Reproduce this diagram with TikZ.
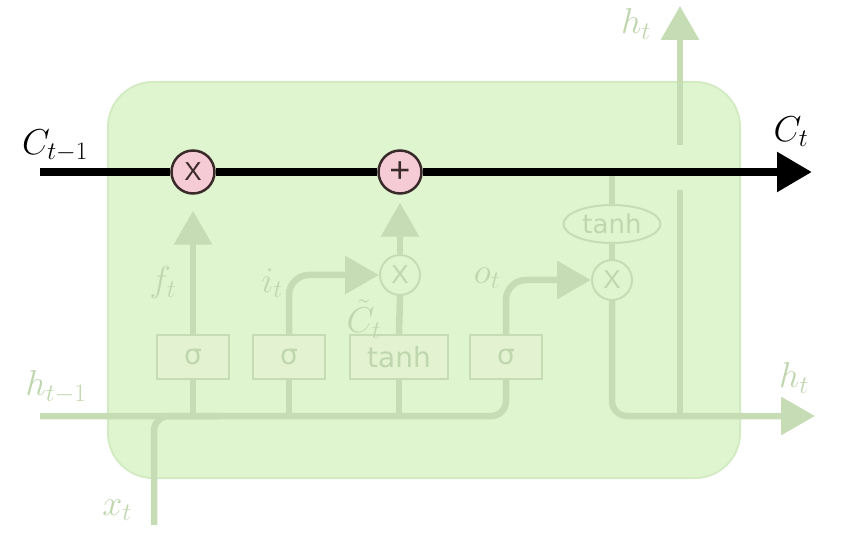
\RequirePackage{fix-cm}
\documentclass[tikz,border=0pt]{standalone}
\usepackage{fontspec}
\newfontfamily\dejavu{DejaVu Sans}
\newfontfamily\libsans{Liberation Sans}
\usetikzlibrary{arrows.meta,shapes.geometric}
\definecolor{cellbg}{HTML}{DFF5D0}
\definecolor{cellborder}{HTML}{D3EBC3}
\definecolor{faded}{HTML}{C5DCB4}
\definecolor{fadedtext}{HTML}{BFD6AE}
\definecolor{gatefill}{HTML}{E3F2D1}
\definecolor{pinkop}{HTML}{F5CBD5}
\definecolor{opink}{HTML}{3A2A2A}
\tikzset{
  fadedline/.style={draw=faded, line width=6.5pt},
  fadedarrow/.style={fadedline, -{Triangle[length=34pt,width=37pt]}},
  gatebox/.style={draw=faded, line width=2pt, fill=gatefill, minimum width=72pt, minimum height=44pt, inner sep=0pt, font=\dejavu\fontsize{28}{28}\selectfont, text=fadedtext},
  fadedop/.style={circle, draw=faded, line width=2pt, fill=cellbg, minimum size=40pt, inner sep=0pt, font=\libsans\fontsize{26}{26}\selectfont, text=fadedtext},
  mainop/.style={circle, draw=opink, line width=2.5pt, fill=pinkop, minimum size=43pt, inner sep=0pt, font=\libsans\fontsize{26}{26}\selectfont, text=opink},
  lbl/.style={font=\fontsize{36}{36}\selectfont, inner sep=0pt},
  fadedlbl/.style={lbl, text=fadedtext},
}
\begin{document}
\begin{tikzpicture}[x=1pt,y=-1pt]
\useasboundingbox (0,0) rectangle (854,545);
% cell body
\draw[cellborder, line width=2pt, fill=cellbg, rounded corners=45pt] (108,82) rectangle (740,478);

% gates
\node[gatebox] (g1) at (193,357) {σ};
\node[gatebox] (g2) at (289,357) {σ};
\node[gatebox, minimum width=98pt] (g3) at (399,357) {tanh};
\node[gatebox] (g4) at (506,357) {σ};

% main operators
\node[mainop] (mul1) at (193,172) {X};
\node[mainop, font=\libsans\fontsize{36}{36}\selectfont] (add1) at (400,172) {+};

% faded operators
\node[fadedop] (mul2) at (400,275) {X};
\node[fadedop] (mul3) at (612,280) {X};
\node[ellipse, draw=faded, line width=2pt, fill=cellbg, minimum width=97pt, minimum height=38pt, inner sep=0pt, font=\dejavu\fontsize{26}{26}\selectfont, text=fadedtext] (th) at (612,224) {tanh};

% coordinates
\coordinate (cin) at (40,172);
\coordinate (cout) at (812,172);
\coordinate (ctap) at (612,172);
\coordinate (hin) at (40,416);
\coordinate (xin) at (154,525);
\coordinate (hout) at (815,416);
\coordinate (hjoin) at (680,416);
\coordinate (hgaplow) at (680,190);
\coordinate (hgaphigh) at (680,145);
\coordinate (htop) at (680,6);

% faded connectors
\draw[fadedline, rounded corners=15pt] (hin) -- (g4.south |- hin) -- (g4.south);
\draw[fadedline, rounded corners=15pt] (xin) -- (xin |- hin) -- (220,416);
\draw[fadedline] (g1.south) -- (g1.south |- hin);
\draw[fadedline] (g2.south) -- (g2.south |- hin);
\draw[fadedline] (g3.south) -- (g3.south |- hin);
\draw[fadedarrow, shorten >=16pt] (g1.north) -- (mul1.south);
\draw[fadedarrow, rounded corners=20pt] (g2.north) -- (g2.north |- mul2) -- (mul2.west);
\draw[fadedline] (g3.north) -- (mul2.south);
\draw[fadedarrow, shorten >=8pt] (mul2.north) -- (add1.south);
\draw[fadedarrow, rounded corners=20pt] (g4.north) -- (g4.north |- mul3) -- (mul3.west);
\draw[fadedline] (ctap) -- (th.north);
\draw[fadedline] (th.south) -- (mul3.north);
\draw[fadedarrow, rounded corners=15pt] (mul3.south) -- (mul3.south |- hout) -- (hout);
\draw[fadedline] (hjoin) -- (hgaplow);
\draw[fadedarrow] (hgaphigh) -- (htop);

% faded labels
\node[fadedlbl] (lf) at (163,283) {$f_t$};
\node[fadedlbl] (li) at (272,283) {$i_t$};
\node[fadedlbl] (lc) at (364,319) {$\tilde{C}_t$};
\node[fadedlbl] (lo) at (487,278) {$o_t$};
\node[fadedlbl] (lhtop) at (636,24) {$h_t$};
\node[fadedlbl] (lhr) at (794,378) {$h_t$};
\node[fadedlbl] (lhin) at (56,387) {$h_{t-1}$};
\node[fadedlbl] (lx) at (117,510) {$x_t$};

% cell state line
\draw[line width=8.5pt, -{Triangle[length=35pt,width=38pt]}] (cin) -- (mul1) -- (add1) -- (cout);
\node[lbl] (lcin) at (55,146) {$C_{t-1}$};
\node[lbl] (lcout) at (791,132) {$C_t$};
\end{tikzpicture}
\end{document}
